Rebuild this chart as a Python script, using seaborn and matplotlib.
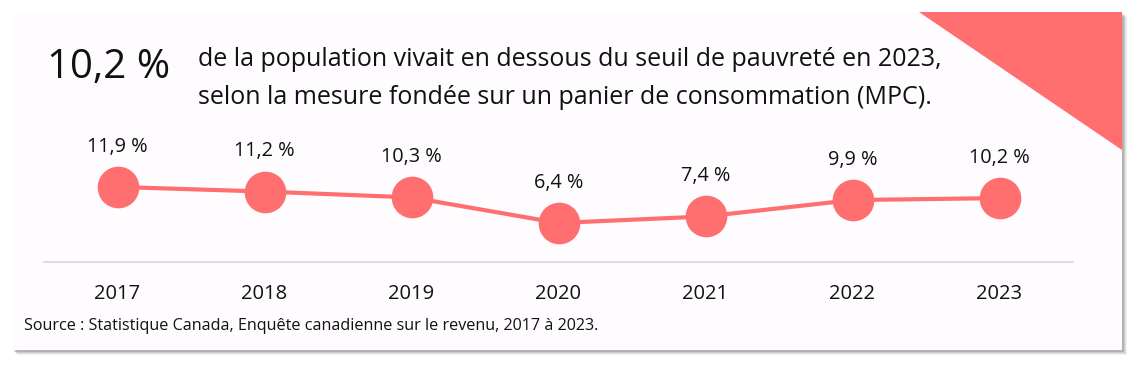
import numpy as np
import pandas as pd
import seaborn as sns
import matplotlib.pyplot as plt
from matplotlib.patches import Rectangle, Polygon

# données
annees = ["2017", "2018", "2019", "2020", "2021", "2022", "2023"]
taux = [11.9, 11.2, 10.3, 6.4, 7.4, 9.9, 10.2]
etiquettes = ["11,9 %", "11,2 %", "10,3 %", "6,4 %", "7,4 %", "9,9 %", "10,2 %"]

rouge = "#FF6F6F"

sns.set_theme(style="white")
plt.rcParams["font.family"] = ["Open Sans", "DejaVu Sans"]

W, H = 1140, 367
fig = plt.figure(figsize=(W / 100, H / 100), dpi=100)
fig.patch.set_facecolor("white")

# === carte avec ombre ===
def px(x, y):
    return x / W, 1 - y / H

x0, y0, x1, y1 = 12, 12, 1122, 350
for i, a in enumerate([0.05, 0.07, 0.09, 0.12]):
    d = 5 - i
    fig.patches.append(Rectangle(px(x0 + d, y1 + d), (x1 - x0) / W, (y1 - y0) / H,
                                 transform=fig.transFigure, color="black", alpha=a, lw=0, zorder=0))
fig.patches.append(Rectangle(px(x0, y1), (x1 - x0) / W, (y1 - y0) / H,
                             transform=fig.transFigure, facecolor="#FEFCFE", lw=0, zorder=1))
# triangle en haut à droite
fig.patches.append(Polygon([px(919, 12), px(1122, 12), px(1122, 150)], closed=True,
                           transform=fig.transFigure, facecolor=rouge, lw=0, zorder=2))

# === textes d'en-tête ===
fig.text(*px(47, 68), "10,2 %", fontsize=29, va="center", ha="left", color="#111111", zorder=3)
fig.text(*px(198, 60), "de la population vivait en dessous du seuil de pauvreté en 2023,",
         fontsize=18, va="center", ha="left", color="#111111", zorder=3)
fig.text(*px(198, 97), "selon la mesure fondée sur un panier de consommation (MPC).",
         fontsize=18, va="center", ha="left", color="#111111", zorder=3)
fig.text(*px(24, 326), "Source : Statistique Canada, Enquête canadienne sur le revenu, 2017 à 2023.",
         fontsize=11.6, va="center", ha="left", color="#111111", zorder=3)

# === graphique ===
ax = fig.add_axes([44 / W, 1 - 262 / H, (1073 - 44) / W, (262 - 130) / H])
ax.set_facecolor("none")
ax.set_zorder(4)
df = pd.DataFrame({"x": np.arange(len(annees)), "taux": taux})
sns.lineplot(data=df, x="x", y="taux", color=rouge, linewidth=3, marker="o",
             markersize=30, markeredgewidth=0, ax=ax)

for i, (v, lab) in enumerate(zip(taux, etiquettes)):
    ax.annotate(lab, (i, v), xytext=(0, 29), textcoords="offset points",
                ha="center", va="center", fontsize=14.3, color="#111111")

ax.set_xlim(-0.5, 6.5)
ax.set_ylim(0.44, 20.6)
ax.set_xticks(range(len(annees)))
ax.set_xticklabels(annees, fontsize=14.5, color="#111111")
ax.set_yticks([])
ax.set_xlabel("")
ax.set_ylabel("")
for s in ["top", "left", "right"]:
    ax.spines[s].set_visible(False)
ax.spines["bottom"].set_color("#DDDDDD")
ax.spines["bottom"].set_linewidth(1.5)
ax.tick_params(axis="x", length=0, pad=16)

fig.savefig("out.png", dpi=100)
